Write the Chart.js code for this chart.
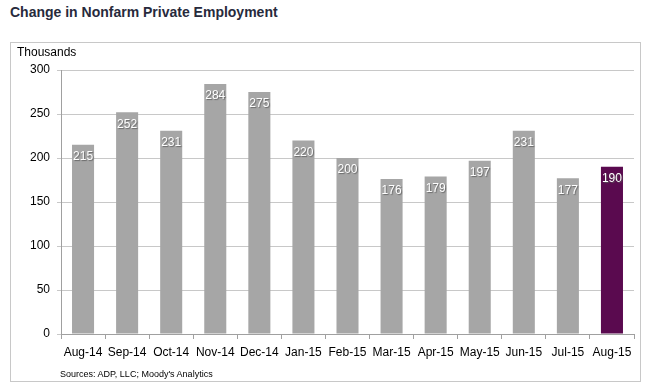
<!DOCTYPE html>
<html lang="en">
<head>
  <meta charset="UTF-8">
  <title>Change in Nonfarm Private Employment</title>
  <script src="https://cdn.jsdelivr.net/npm/chart.js"></script>
  <style>
    body { margin: 0; background: #fff; font-family: "Liberation Sans", Arial, sans-serif; }
    #title { position: absolute; left: 10px; top: 4px; font-size: 14px; font-weight: bold; color: #272a3c; }
    #box { position: absolute; left: 10px; top: 42px; width: 629px; height: 338px; border: 1px solid #c8c8c8; }
    #unit { position: absolute; left: 6px; top: 2px; font-size: 12px; color: #000; }
    #src { position: absolute; left: 49px; top: 326px; font-size: 9px; color: #000; }
    canvas { position: absolute; left: 0; top: 0; }
  </style>
</head>
<body>
<div id="title">Change in Nonfarm Private Employment</div>
<div id="box">
  <canvas id="myChart" width="629" height="338"></canvas>
  <div id="unit">Thousands</div>
  <div id="src">Sources: ADP, LLC; Moody's Analytics</div>
</div>
<script>
  // data
  const months = ['Aug-14', 'Sep-14', 'Oct-14', 'Nov-14', 'Dec-14', 'Jan-15', 'Feb-15',
                  'Mar-15', 'Apr-15', 'May-15', 'Jun-15', 'Jul-15', 'Aug-15'];
  const jobs = [215, 252, 231, 284, 275, 220, 200, 176, 179, 197, 231, 177, 190];

  const barColors = months.map((m, i) => i === months.length - 1 ? '#5a0a4f' : '#a6a6a6');

  // value labels inside the top of each bar
  const valueLabels = {
    id: 'valueLabels',
    afterDatasetsDraw(chart) {
      const ctx = chart.ctx;
      const meta = chart.getDatasetMeta(0);
      ctx.save();
      ctx.font = '12px "Liberation Sans", Arial, sans-serif';
      ctx.textAlign = 'center';
      ctx.textBaseline = 'middle';
      meta.data.forEach((bar, i) => {
        ctx.shadowColor = 'rgba(90,90,90,0.8)';
        ctx.shadowOffsetX = 1;
        ctx.shadowOffsetY = 1;
        ctx.shadowBlur = 1;
        ctx.fillStyle = '#fff';
        ctx.fillText(jobs[i], bar.x, bar.y + 12);
      });
      ctx.restore();
    }
  };

  const ctx = document.getElementById('myChart').getContext('2d');
  new Chart(ctx, {
    type: 'bar',
    data: {
      labels: months,
      datasets: [{
        data: jobs,
        backgroundColor: barColors,
        barPercentage: 0.5,
        categoryPercentage: 1.0
      }]
    },
    plugins: [valueLabels],
    options: {
      responsive: false,
      animation: false,
      layout: { padding: { top: 27, right: 6, left: 0, bottom: 0 } },
      plugins: {
        legend: { display: false },
        tooltip: { enabled: false }
      },
      scales: {
        x: {
          offset: true,
          grid: { offset: true, drawOnChartArea: false, drawTicks: true, tickLength: 5, color: '#a0a0a0' },
          border: { color: '#a0a0a0' },
          ticks: { color: '#000', padding: 6, maxRotation: 0, autoSkip: false,
                   font: { size: 12, family: '"Liberation Sans", Arial, sans-serif' } },
          afterFit(scale) { scale.height = 47; }
        },
        y: {
          min: 0,
          max: 300,
          ticks: { stepSize: 50, color: '#000', padding: 7,
                   font: { size: 12, family: '"Liberation Sans", Arial, sans-serif' } },
          grid: { color: '#c8c8c8', tickLength: 4 },
          border: { color: '#a0a0a0' },
          afterFit(scale) { scale.width = 50; }
        }
      }
    }
  });
</script>
</body>
</html>
